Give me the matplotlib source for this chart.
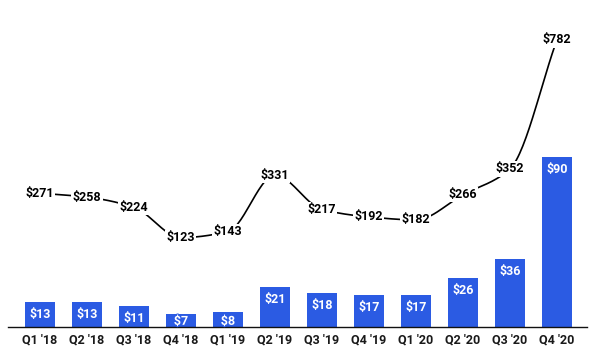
import numpy as np
import matplotlib.pyplot as plt
import matplotlib.patheffects as pe

quarters = ["Q1 '18", "Q2 '18", "Q3 '18", "Q4 '18", "Q1 '19", "Q2 '19",
            "Q3 '19", "Q4 '19", "Q1 '20", "Q2 '20", "Q3 '20", "Q4 '20"]
bar_values = [13, 13, 11, 7, 8, 21, 18, 17, 17, 26, 36, 90]
line_values = [271, 258, 224, 123, 143, 331, 217, 192, 182, 266, 352, 782]

BLUE = '#2b5be3'
plt.rcParams['font.family'] = ['Roboto', 'DejaVu Sans']


def monotone(x, y, n=30):
    # Fritsch-Carlson monotone cubic, like d3 curveMonotoneX
    x, y = np.asarray(x, float), np.asarray(y, float)
    h = np.diff(x)
    d = np.diff(y) / h
    m = np.zeros_like(y)
    m[0], m[-1] = d[0], d[-1]
    for i in range(1, len(y) - 1):
        if d[i-1] * d[i] <= 0:
            m[i] = 0
        else:
            m[i] = 3 * (h[i-1] + h[i]) / ((2*h[i] + h[i-1]) / d[i-1] + (h[i] + 2*h[i-1]) / d[i])
    xs, ys = [], []
    for i in range(len(x) - 1):
        t = np.linspace(0, 1, n)
        h00 = 2*t**3 - 3*t**2 + 1
        h10 = t**3 - 2*t**2 + t
        h01 = -2*t**3 + 3*t**2
        h11 = t**3 - t**2
        xs.append(x[i] + t*h[i])
        ys.append(h00*y[i] + h10*h[i]*m[i] + h01*y[i+1] + h11*h[i]*m[i+1])
    return np.concatenate(xs), np.concatenate(ys)


fig = plt.figure(figsize=(6, 3.58), dpi=100)
ax = fig.add_axes([8/600, 31/358, 579/600, 327/358])
x = np.arange(len(quarters))

ax.bar(x, bar_values, width=0.64, color=BLUE, zorder=2)
for xi, v in zip(x, bar_values):
    t = ax.text(xi, max(v - 6.6, 3.0), f'${v}', ha='center', va='center',
                color='white', fontsize=9, fontweight='bold', zorder=3)
    if v < 10:
        t.set_path_effects([pe.withStroke(linewidth=1.5, foreground=BLUE)])

ax.set_xlim(-0.68, 11.64)
ax.set_ylim(0, 173)
ax.set_xticks(x)
ax.set_xticklabels(quarters, fontsize=9, fontweight='bold', color='#1a1a1a')
ax.tick_params(axis='x', length=0, pad=5)
ax.set_yticks([])
for s in ['top', 'right', 'left']:
    ax.spines[s].set_visible(False)
ax.spines['bottom'].set_color('#111111')
ax.spines['bottom'].set_linewidth(1.0)

ax2 = ax.twinx()
ax2.set_ylim(-175, 915)
ax2.set_yticks([])
for s in ax2.spines.values():
    s.set_visible(False)
cx, cy = monotone(x, line_values)
ax2.plot(cx, cy, color='black', lw=1.2, zorder=2)
for xi, v in zip(x, line_values):
    ax2.text(xi, v, f'${v}', ha='center', va='center', color='black',
             fontsize=9, fontweight='bold', zorder=3,
             bbox=dict(boxstyle='square,pad=0.1', fc='white', ec='none'))

fig.savefig('out.png', dpi=100)
